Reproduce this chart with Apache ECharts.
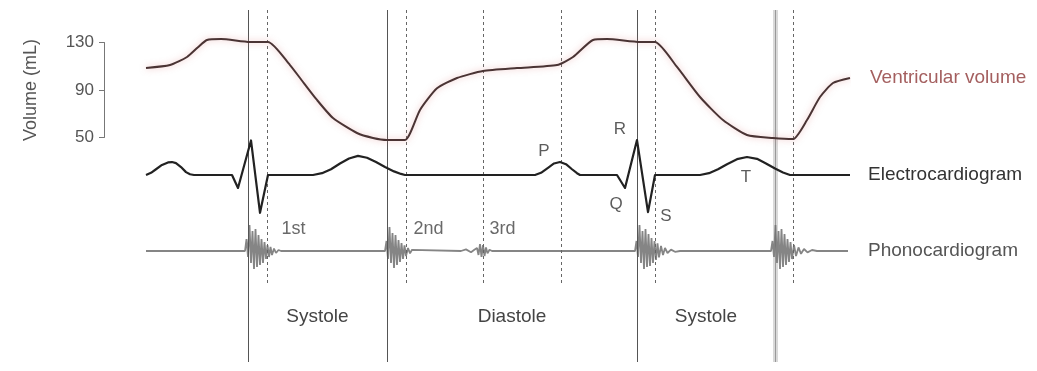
<!DOCTYPE html>
<html>
<head>
<meta charset="utf-8">
<script src="https://cdn.jsdelivr.net/npm/echarts@6/dist/echarts.min.js"></script>
<style>
  html, body { margin: 0; padding: 0; background: #fff; }
  #chart { width: 1037px; height: 371px; }
</style>
</head>
<body>
<div id="chart"></div>
<script>
// Time runs in milliseconds across two heart cycles.
const timeRange = [0, 1408];

// Ventricular volume (mL)
const volumeTime = [0, 48, 82, 104, 122, 150, 208, 244, 288, 308, 342, 374, 422, 454, 482, 518,
  548, 582, 622, 674, 742, 822, 854, 894, 922, 988, 1018, 1062, 1108, 1154, 1202, 1254, 1294,
  1322, 1348, 1374, 1408];
const volumeMl = [108.5, 111, 117.8, 126, 132.1, 132.9, 130.4, 130.4, 111, 100.1, 81.6, 66.4, 53.8, 49.6, 47.9, 47.9,
  73.2, 91.4, 100.1, 106, 108.5, 111, 117.8, 132.1, 132.9, 130.4, 130.4, 109.4, 84.1, 64.7, 52.1, 49.6, 48.7,
  64.7, 84.1, 95.9, 100.1];
const volumeTicks = [50, 90, 130];

// Electrocardiogram (mV)
const ecgTime = [0, 10, 20, 32, 44, 52, 60, 70, 80, 88, 96,
  172, 184, 210, 228, 244,
  334, 352, 370, 388, 406, 424, 442, 460, 478, 496, 510, 518,
  778, 790, 804, 816, 828, 840, 852, 862, 868,
  942, 958, 982, 1004, 1018,
  1108, 1126, 1144, 1162, 1182, 1202, 1222, 1240, 1258, 1274, 1288,
  1408];
const ecgMv = [0, 0.06, 0.16, 0.28, 0.35, 0.36, 0.33, 0.22, 0.08, 0.02, 0,
  0, -0.36, 0.96, -1.05, 0,
  0, 0.05, 0.16, 0.32, 0.46, 0.53, 0.48, 0.36, 0.22, 0.1, 0.03, 0,
  0, 0.06, 0.2, 0.32, 0.36, 0.3, 0.16, 0.05, 0,
  0, -0.36, 0.97, -1.03, 0,
  0, 0.05, 0.16, 0.3, 0.44, 0.5, 0.45, 0.32, 0.18, 0.07, 0,
  0];
const waveNames = ['P', 'Q', 'R', 'S', 'T'];
const waveTime = [828, 958, 982, 1004, 1202];

// Phonocardiogram (relative amplitude)
const phonoTrace = [
  [0, 0], [198, 0],
  [201, 0.6], [204, -0.3], [207, 1.3], [210, -0.6], [213, 1.0], [216, -0.9], [219, 1.1], [222, -0.8],
  [225, 0.8], [228, -0.7], [231, 0.6], [234, -0.6], [237, 0.45], [240, -0.4], [243, 0.3], [246, -0.3],
  [249, 0.2], [252, -0.2], [256, 0.12], [260, -0.1], [265, 0.05], [270, 0],
  [478, 0],
  [481, 0.5], [484, -0.4], [487, 1.2], [490, -0.6], [493, 0.9], [496, -0.85], [499, 0.8], [502, -0.7],
  [505, 0.55], [508, -0.55], [511, 0.4], [514, -0.4], [517, 0.28], [520, -0.25], [524, 0.15],
  [528, -0.12], [532, 0.06], [536, 0],
  [630, 0], [640, 0.08], [650, -0.06], [656, 0.05],
  [662, 0.15], [665, -0.2], [668, 0.35], [671, -0.3], [674, 0.3], [677, -0.25], [680, 0.18],
  [683, -0.12], [687, 0.06], [692, 0],
  [978, 0],
  [981, 0.5], [984, -0.3], [987, 1.3], [990, -0.6], [993, 1.0], [996, -0.9], [999, 1.1], [1002, -0.8],
  [1005, 0.85], [1008, -0.75], [1011, 0.65], [1014, -0.6], [1017, 0.5], [1020, -0.45], [1023, 0.38],
  [1026, -0.32], [1030, 0.25], [1034, -0.2], [1038, 0.15], [1043, -0.1], [1050, 0.07], [1058, -0.04],
  [1068, 0],
  [1250, 0],
  [1253, 0.5], [1256, -0.3], [1259, 1.3], [1262, -0.6], [1265, 1.0], [1268, -0.9], [1271, 1.1],
  [1274, -0.8], [1277, 0.85], [1280, -0.7], [1283, 0.6], [1286, -0.55], [1289, 0.45], [1292, -0.4],
  [1296, 0.3], [1300, -0.25], [1305, 0.18], [1310, -0.14], [1316, 0.1], [1323, -0.07], [1332, 0.05],
  [1342, 0], [1404, 0]
];
const soundNames = ['1st', '2nd', '3rd'];
const soundTime = [270, 534, 686];

// Valve events: solid lines bound the phases, dashed lines mark the other events
const phaseBounds = [204, 482, 982, 1258];
const phaseNames = ['Systole', 'Diastole', 'Systole'];
const dashedEvents = [242, 520, 674, 830, 1018, 1294];

const FONT = '"Liberation Sans", Arial, Helvetica, sans-serif';
const PLOT_LEFT = 146, PLOT_WIDTH = 704;
// The volume scale stands a little left of the traces.
const AXIS_GAP = 42;
const msPerPx = (timeRange[1] - timeRange[0]) / PLOT_WIDTH;

const grids = [
  { left: PLOT_LEFT - AXIS_GAP, width: PLOT_WIDTH + AXIS_GAP, top: 42.5, height: 95 }, // volume
  { left: PLOT_LEFT, width: PLOT_WIDTH, top: 121, height: 108 },   // ECG
  { left: PLOT_LEFT, width: PLOT_WIDTH, top: 221, height: 60 },    // phono
  { left: PLOT_LEFT, width: PLOT_WIDTH, top: 10, height: 352 },    // phase lines
  { left: PLOT_LEFT, width: PLOT_WIDTH, top: 10, height: 273 }     // event lines
];

const xAxes = grids.map((g, i) => ({
  gridIndex: i, type: 'value',
  min: i === 0 ? timeRange[0] - AXIS_GAP * msPerPx : timeRange[0],
  max: timeRange[1], show: false
}));

const yAxes = [
  {
    gridIndex: 0, type: 'value',
    min: volumeTicks[0], max: volumeTicks[volumeTicks.length - 1],
    interval: volumeTicks[1] - volumeTicks[0],
    position: 'left',
    axisLine: { show: true, onZero: false, lineStyle: { color: '#777', width: 1 } },
    axisTick: { show: true, length: 5, lineStyle: { color: '#777' } },
    axisLabel: { color: '#555', fontSize: 17, fontFamily: FONT, margin: 10 },
    splitLine: { show: false },
    name: 'Volume (mL)', nameLocation: 'middle', nameRotate: 90, nameGap: 64,
    nameTextStyle: { color: '#555', fontSize: 18, fontFamily: FONT }
  },
  { gridIndex: 1, type: 'value', min: -1.5, max: 1.5, show: false },
  { gridIndex: 2, type: 'value', min: -1.5, max: 1.5, show: false },
  { gridIndex: 3, type: 'value', min: 0, max: 1, show: false },
  { gridIndex: 4, type: 'value', min: 0, max: 1, show: false }
];

const waveOffsets = { P: [-16, -11], Q: [-9, 16], R: [-17, -11], S: [18, 4], T: [-1, 20] };

const series = [
  {
    type: 'line', name: 'Ventricular volume', xAxisIndex: 0, yAxisIndex: 0,
    data: volumeTime.map((t, i) => [t, volumeMl[i]]),
    showSymbol: false, clip: false, smooth: 0.2, z: 5,
    lineStyle: { color: '#4a3434', width: 2, shadowColor: 'rgba(220,120,120,0.5)', shadowBlur: 6 },
    endLabel: {
      show: true, formatter: p => p.seriesName, distance: 20,
      color: '#a45f5f', fontSize: 19, fontFamily: FONT
    }
  },
  {
    type: 'line', name: 'Electrocardiogram', xAxisIndex: 1, yAxisIndex: 1,
    data: ecgTime.map((t, i) => [t, ecgMv[i]]),
    showSymbol: false, clip: false, z: 5,
    lineStyle: { color: '#222', width: 2.2, join: 'round' },
    endLabel: {
      show: true, formatter: p => p.seriesName, distance: 18,
      color: '#333', fontSize: 19, fontFamily: FONT
    }
  },
  {
    type: 'scatter', xAxisIndex: 1, yAxisIndex: 1, z: 6, silent: true,
    symbolSize: 1, itemStyle: { color: 'rgba(0,0,0,0)' },
    data: waveNames.map((n, i) => ({
      name: n,
      value: [waveTime[i], ecgMv[ecgTime.indexOf(waveTime[i])]],
      label: { offset: waveOffsets[n] }
    })),
    label: {
      show: true, position: 'inside', formatter: p => p.name,
      color: '#333', fontSize: 17, fontFamily: FONT
    }
  },
  {
    type: 'line', name: 'Phonocardiogram', xAxisIndex: 2, yAxisIndex: 2,
    data: phonoTrace, showSymbol: false, clip: false, sampling: null, z: 4,
    lineStyle: { color: '#858585', width: 1.8 },
    endLabel: {
      show: true, formatter: p => p.seriesName, distance: 20,
      color: '#555', fontSize: 19, fontFamily: FONT
    }
  },
  {
    type: 'scatter', xAxisIndex: 2, yAxisIndex: 2, z: 6, silent: true,
    symbolSize: 1, itemStyle: { color: 'rgba(0,0,0,0)' },
    data: soundNames.map((n, i) => ({ name: n, value: [soundTime[i], 0] })),
    label: {
      show: true, position: 'right', distance: 0, offset: [0, -22], formatter: p => p.name,
      color: '#444', fontSize: 18, fontFamily: FONT
    }
  },
  {
    type: 'line', xAxisIndex: 3, yAxisIndex: 3, data: [], z: 1, silent: true,
    markLine: {
      silent: true, symbol: 'none', label: { show: false },
      lineStyle: { color: '#555', width: 1, type: 'solid' },
      data: phaseBounds.map((t, i) => i === phaseBounds.length - 1
        ? { xAxis: t, lineStyle: { color: 'rgba(130,130,130,0.3)', width: 5 } }
        : { xAxis: t })
    },
    markArea: {
      silent: true,
      itemStyle: { color: 'rgba(0,0,0,0)' },
      label: {
        show: true, position: 'insideBottom', distance: 36,
        color: '#444', fontSize: 19, fontFamily: FONT
      },
      data: phaseNames.map((n, i) => [{ name: n, xAxis: phaseBounds[i] }, { xAxis: phaseBounds[i + 1] }])
    }
  },
  {
    // thin core line inside the last, wider phase boundary
    type: 'line', xAxisIndex: 3, yAxisIndex: 3, data: [], z: 1, silent: true,
    markLine: {
      silent: true, symbol: 'none', label: { show: false },
      lineStyle: { color: 'rgba(110,110,110,0.6)', width: 1, type: 'solid' },
      data: [{ xAxis: phaseBounds[phaseBounds.length - 1] }]
    }
  },
  {
    type: 'line', xAxisIndex: 4, yAxisIndex: 4, data: [], z: 1, silent: true,
    markLine: {
      silent: true, symbol: 'none', label: { show: false },
      lineStyle: { color: '#666', width: 1, type: [3, 3] },
      data: dashedEvents.map(t => ({ xAxis: t }))
    }
  }
];

const chart = echarts.init(document.getElementById('chart'), null, { renderer: 'canvas' });
chart.setOption({
  animation: false,
  backgroundColor: '#fff',
  grid: grids,
  xAxis: xAxes,
  yAxis: yAxes,
  series: series
});
</script>
</body>
</html>
